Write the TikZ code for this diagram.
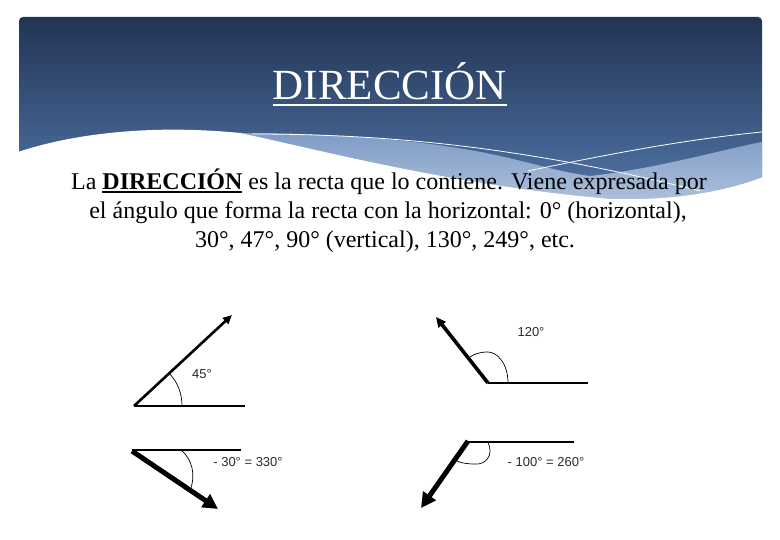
\documentclass[tikz,border=0pt]{standalone}
\usepackage{fontspec}
\setmainfont{Liberation Serif}
\newfontfamily\labelfont{Liberation Sans}
\usetikzlibrary{arrows.meta}
\definecolor{paneltop}{HTML}{223454}
\definecolor{panelbot}{HTML}{5479AC}
\definecolor{bandtop}{HTML}{7F9BC6}
\definecolor{bandbot}{HTML}{B3C5DE}
\definecolor{lblgray}{HTML}{2A2A2A}
\newcommand\myul[1]{\setbox0\hbox{#1}\rlap{\rule[-3pt]{\wd0}{1.6pt}}\box0\relax}
\tikzset{
  body/.style={font=\fontsize{24}{29}\selectfont, inner sep=0, anchor=base},
  lbl/.style={font=\labelfont\fontsize{13}{15}\selectfont, text=lblgray, inner sep=0},
  refline/.style={line width=1.1pt, black},
  anglearc/.style={line width=0.7pt, black},
  vecA/.style={line width=2.6pt, -{Triangle[length=9pt,width=8pt]}},
  vecB/.style={line width=5pt, -{Triangle[length=15pt,width=15pt]}},
  vecC/.style={line width=3.6pt, -{Triangle[length=10pt,width=9pt]}},
}
\begin{document}
\begin{tikzpicture}[x=1pt,y=-1pt]
\useasboundingbox (0,0) rectangle (780,540);
% header panel
\shade[top color=paneltop, bottom color=panelbot, rounded corners=4pt] (19,17) rectangle (762,210);
% light swoosh band
\shade[top color=bandtop, bottom color=bandbot]
  (240,133) .. controls (330,133) and (430,140) .. (500,156)
  .. controls (540,165) and (560,172) .. (590,176)
  .. controls (660,168) and (720,150) .. (762,142)
  -- (762,210) -- (240,210) -- cycle;
% white lower region
\fill[white] (15,153) .. controls (70,134) and (150,124) .. (240,133)
  .. controls (320,150) and (450,185) .. (610,199)
  .. controls (680,201) and (730,190) .. (766,176)
  -- (766,215) -- (15,215) -- cycle;
% thin white lines
\draw[white, line width=0.8pt] (252,134) .. controls (400,134) and (500,150) .. (573,163)
  .. controls (620,172) and (660,181) .. (700,191);
\draw[white, line width=0.8pt] (528,171) .. controls (600,156) and (680,140) .. (762,132);
% title
\node[anchor=base, text=white, font=\fontsize{43}{50}\selectfont, inner sep=0] (title) at (390,100) {DIRECCIÓN};
\draw[white, line width=2.8pt] ([yshift=-5pt]title.base west) -- ([yshift=-5pt]title.base east);
% body text
\node[body] (l1) at (389,190) {La \myul{\textbf{DIRECCIÓN}} es la recta que lo contiene. Viene expresada por};
\node[body] (l2) at (388,219) {el ángulo que forma la recta con la horizontal: 0° (horizontal),};
\node[body] (l3) at (385,248) {30°, 47°, 90° (vertical), 130°, 249°, etc.};
% diagram 1: 45
\coordinate (v1) at (134,406);
\coordinate (h1) at (245,406);
\coordinate (a1) at (232,315);
\draw[refline] (v1) -- (h1);
\draw[vecA] (v1) -- (a1);
\draw[anglearc] (182,406) .. controls (182,393.9) and (177.9,382.1) .. (169.1,373.3);
\node[lbl] (t1) at (202,374) {45°};
% diagram 2: -30
\coordinate (v2) at (132,451);
\coordinate (h2) at (241,450);
\coordinate (a2) at (218,509);
\draw[refline] (132,450) -- (h2);
\draw[vecB] (v2) -- (a2);
\draw[anglearc] (181,450) .. controls (193,460) and (195,475) .. (191,488);
\node[lbl] (t2) at (248,462) {- 30° = 330°};
% diagram 3: 120
\coordinate (v3) at (488,383);
\coordinate (h3) at (588,383);
\coordinate (a3) at (436,317);
\draw[refline] (v3) -- (h3);
\draw[vecC] (v3) -- (a3);
\draw[anglearc] (508,383) .. controls (508,362) and (496,352) .. (488,352) .. controls (480,352) and (474,354) .. (470,357);
\node[lbl] (t3) at (531,332) {120°};
% diagram 4: -100
\coordinate (v4) at (468,441);
\coordinate (h4) at (574,442);
\coordinate (a4) at (421,508);
\draw[refline] (468,442) -- (h4);
\draw[vecB] (v4) -- (a4);
\draw[anglearc] (488,442) .. controls (494,455) and (486,465) .. (475,464) .. controls (467,464) and (461,463) .. (457,461);
\node[lbl] (t4) at (546,462) {- 100° = 260°};
\end{tikzpicture}
\end{document}
